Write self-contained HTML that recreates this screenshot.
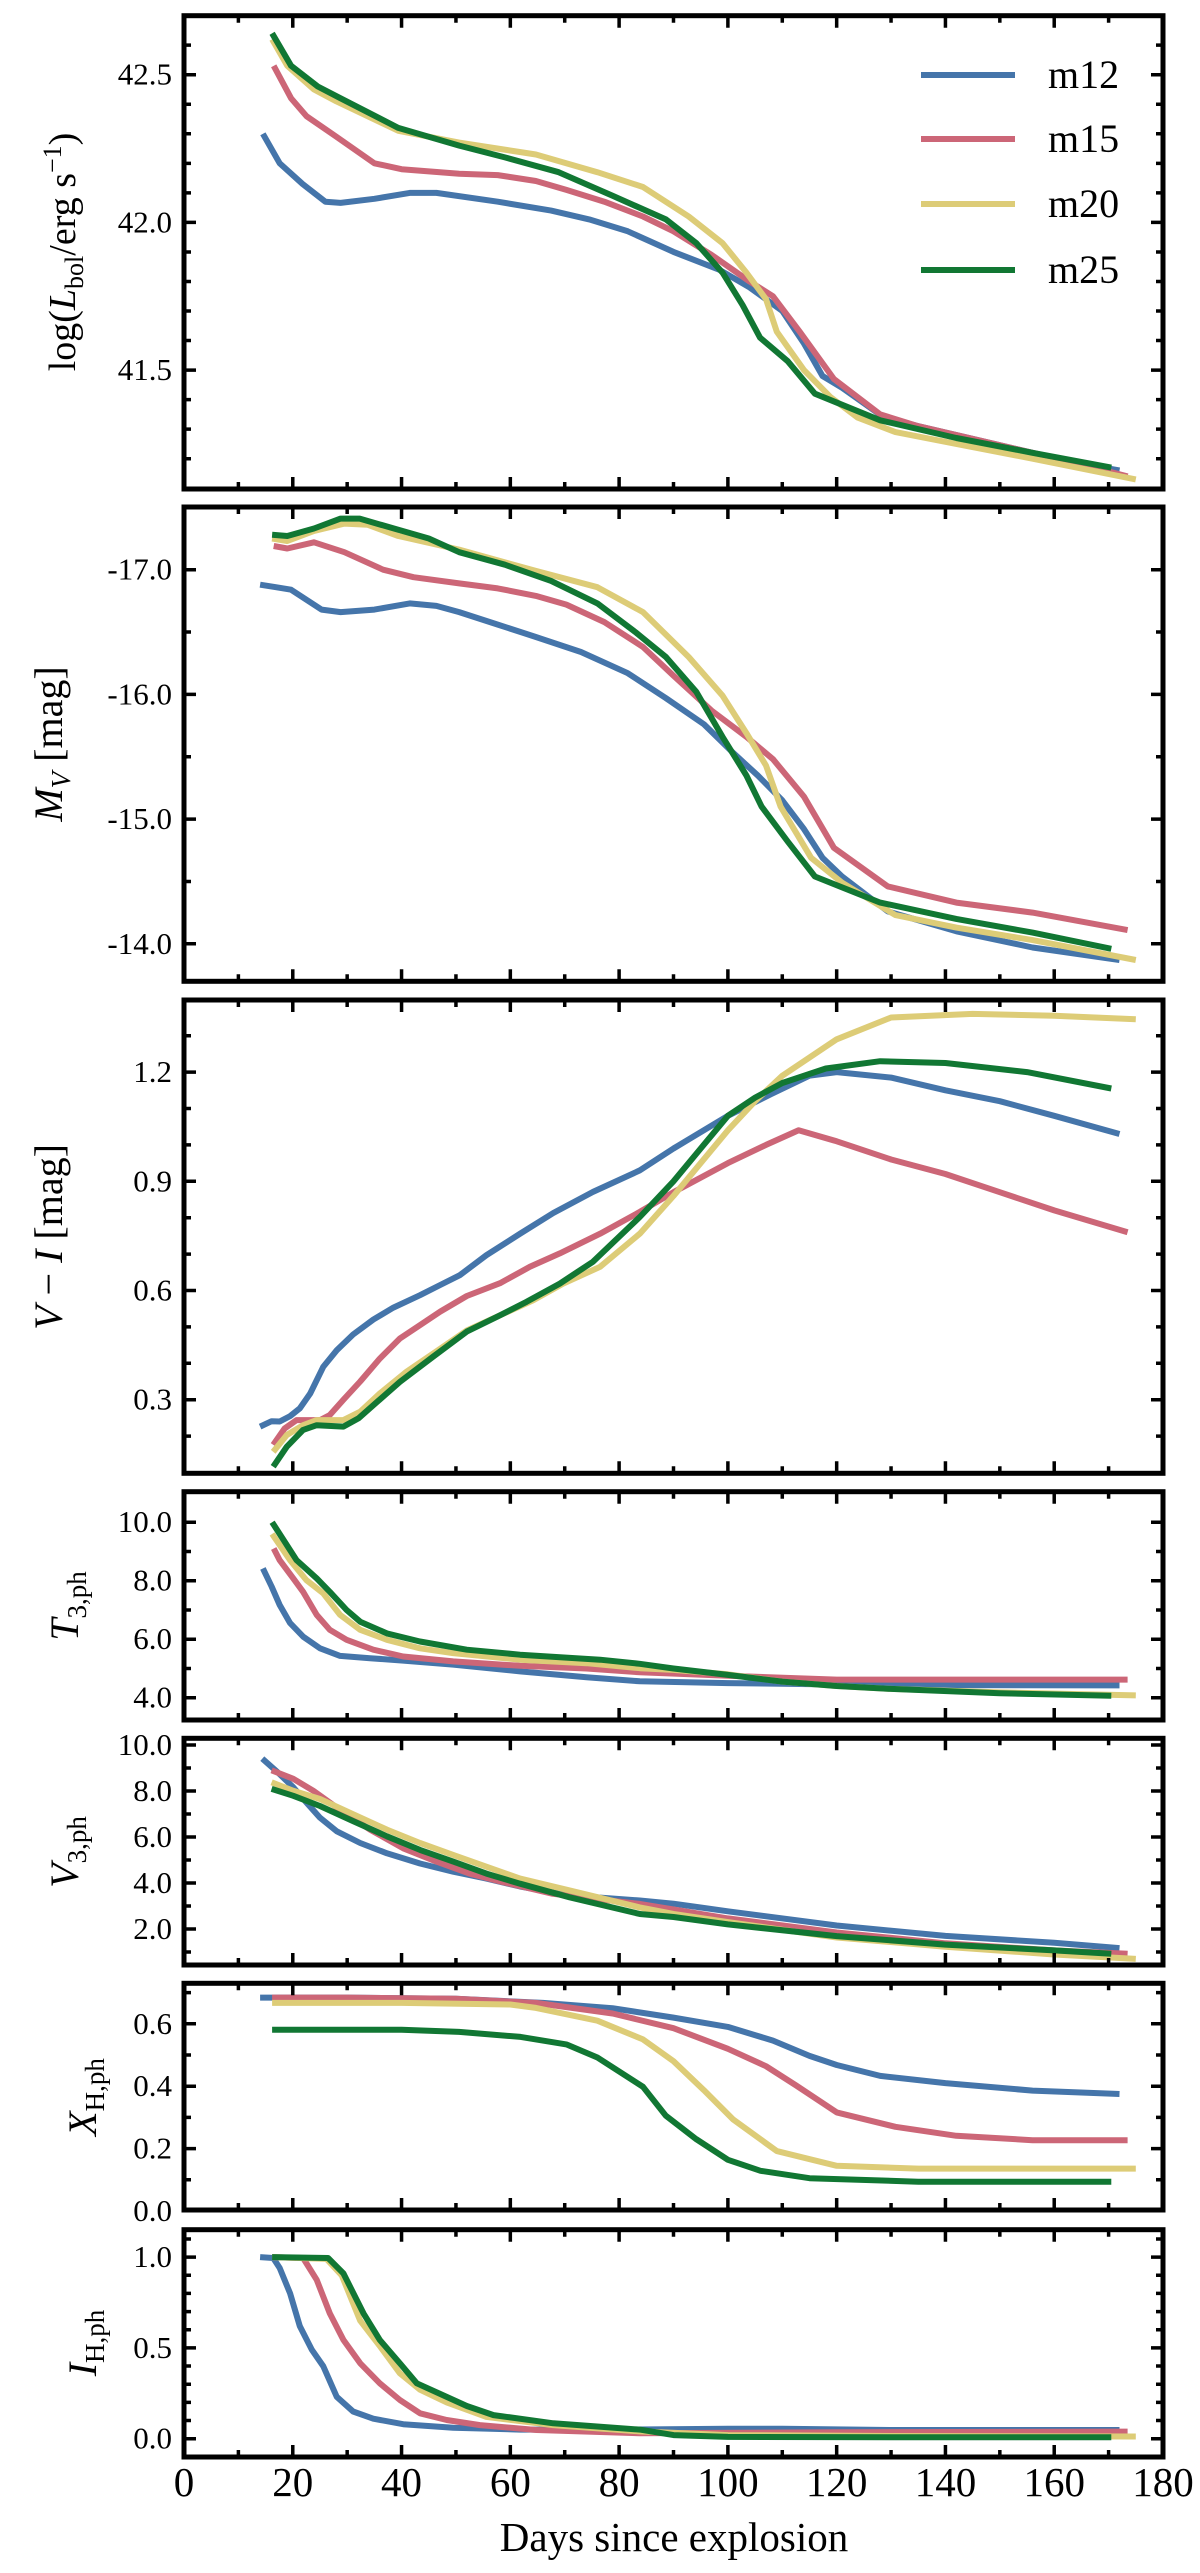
<!DOCTYPE html>
<html><head><meta charset="utf-8"><style>
html,body{margin:0;padding:0;background:#fff;}
svg{display:block;font-family:"Liberation Serif",serif;}
</style></head><body>
<svg id="fig" width="1200" height="2573" viewBox="0 0 1200 2573" xmlns="http://www.w3.org/2000/svg">
<g id="marks"></g><g id="axes"></g><g id="labels"></g>
</svg>
<script>
// ---- data ----
const seriesNames = ["m12","m15","m20","m25"];
const seriesColors = ["#4575aa","#cc6677","#ddcc77","#117733"];
const xTicks = [0,20,40,60,80,100,120,140,160,180];

// Panel 1: log L_bol
const p1_m12_d=[14.5,17.6,21.8,26,28.8,35,41.5,46.4,57.7,67.5,74.5,81.6,90,98.4,104,110,114,117.4,121,128.7,135,149,163,172];
const p1_m12_v=[42.30,42.20,42.13,42.07,42.066,42.08,42.10,42.10,42.07,42.04,42.01,41.97,41.90,41.84,41.78,41.70,41.59,41.48,41.44,41.34,41.31,41.25,41.19,41.16];
const p1_m15_d=[16.5,19.7,22.5,28,35,40,50.6,57.7,64.7,70.3,77.3,84.4,90,97,104,108.3,113.2,119.5,128,135,149,163,173.5];
const p1_m15_v=[42.53,42.42,42.36,42.29,42.20,42.18,42.165,42.16,42.14,42.11,42.07,42.02,41.97,41.89,41.80,41.75,41.63,41.47,41.35,41.31,41.25,41.19,41.14];
const p1_m20_d=[16.2,19,23.9,28,39.4,50.6,64.7,76,84.4,92.8,99,103.4,107,109,114,118.8,123.8,130.8,142,156,175];
const p1_m20_v=[42.62,42.53,42.45,42.41,42.31,42.27,42.23,42.17,42.12,42.02,41.93,41.83,41.74,41.63,41.50,41.41,41.34,41.29,41.25,41.20,41.13];
const p1_m25_d=[16.2,19.7,24.6,28.8,39.4,50.6,59,68.9,78.8,88.6,94.2,99,102.7,105.9,111,116,128,142,156,170.5];
const p1_m25_v=[42.64,42.53,42.46,42.42,42.32,42.26,42.22,42.17,42.09,42.01,41.93,41.83,41.72,41.61,41.53,41.42,41.33,41.27,41.22,41.17];
const p1_ticks=[41.5,42.0,42.5];

// Panel 2: M_V
const p2_m12_d=[14,16.9,19.7,25.3,28.8,35,41.5,46.4,50.6,57.7,64.7,73,81.6,88.6,95.6,101,105.5,110,114,117.4,121,129.4,142,156,172];
const p2_m12_v=[-16.88,-16.86,-16.84,-16.68,-16.66,-16.68,-16.73,-16.71,-16.66,-16.56,-16.46,-16.34,-16.17,-15.97,-15.76,-15.53,-15.35,-15.15,-14.92,-14.69,-14.54,-14.26,-14.10,-13.97,-13.87];
const p2_m15_d=[16.5,19,23.9,29.5,36.6,42.2,50.6,57.7,64.7,70.3,77.3,84.4,90,97,103.4,108.3,114,119.5,129.4,142,156,173.5];
const p2_m15_v=[-17.19,-17.17,-17.22,-17.14,-17.0,-16.94,-16.89,-16.85,-16.79,-16.72,-16.58,-16.38,-16.15,-15.87,-15.66,-15.48,-15.18,-14.77,-14.46,-14.33,-14.25,-14.11];
const p2_m20_d=[16.2,19,23.9,29.5,33.8,39.4,50.6,64.7,76,84.4,92.8,99,103.4,107,109.7,115.3,121,130.8,142,156,175];
const p2_m20_v=[-17.25,-17.23,-17.31,-17.37,-17.36,-17.27,-17.16,-16.99,-16.86,-16.66,-16.30,-15.99,-15.69,-15.43,-15.10,-14.69,-14.49,-14.23,-14.13,-14.03,-13.87];
const p2_m25_d=[16.2,19,23.9,28.8,32.3,39.4,45,50.6,59,67.5,76,83,88.6,94.2,99,103.4,106.2,111,116,128,142,156,170.5];
const p2_m25_v=[-17.28,-17.27,-17.33,-17.41,-17.41,-17.32,-17.25,-17.14,-17.04,-16.91,-16.73,-16.50,-16.30,-16.02,-15.66,-15.35,-15.10,-14.82,-14.54,-14.33,-14.20,-14.09,-13.96];
const p2_ticks=[-17,-16,-15,-14];

// Panel 3: V - I
const p3_m12_d=[14,16.1,17.6,19.5,21.3,23.2,25.6,28.1,31.1,34.8,38.5,43.4,47.1,50.7,55.6,61.8,67.9,75.2,83.8,90,100,108,115,120,130,140,150,160,172];
const p3_m12_v=[0.226,0.241,0.24,0.255,0.276,0.317,0.39,0.436,0.479,0.52,0.553,0.587,0.615,0.642,0.697,0.756,0.813,0.871,0.93,0.99,1.08,1.14,1.19,1.2,1.185,1.15,1.12,1.08,1.03];
const p3_m15_d=[16.4,18.5,20.7,25,26.8,29.3,32.4,36,39.7,43.4,47.1,52,58.1,63.6,69.1,76.5,83.8,90,100,107,113,120,130,140,150,160,173.5];
const p3_m15_v=[0.176,0.221,0.244,0.244,0.258,0.3,0.35,0.413,0.468,0.505,0.542,0.585,0.62,0.665,0.702,0.756,0.816,0.87,0.95,1.0,1.04,1.01,0.96,0.92,0.87,0.82,0.76];
const p3_m20_d=[16.4,18.9,21.9,24.4,29.3,32.4,36,40.9,47.1,52,58.1,64.2,69.7,76.5,83.8,90,95,100,105,110,120,130,145,160,175];
const p3_m20_v=[0.157,0.203,0.23,0.244,0.244,0.267,0.317,0.377,0.44,0.49,0.532,0.573,0.619,0.665,0.756,0.86,0.95,1.04,1.12,1.19,1.29,1.35,1.36,1.355,1.345];
const p3_m25_d=[16.4,18.9,21.9,24.4,29.3,32.1,35.5,39.7,45.8,52,58.1,63,69.1,75.2,83.8,90,95,100,105,110,118,128,140,155,170.5];
const p3_m25_v=[0.116,0.171,0.217,0.23,0.226,0.249,0.294,0.349,0.418,0.487,0.532,0.569,0.619,0.679,0.802,0.9,0.99,1.08,1.13,1.17,1.21,1.23,1.225,1.2,1.155];
const p3_ticks=[0.3,0.6,0.9,1.2];

// Panel 4: T_3,ph
const p4_m12_d=[14.5,16.1,17.6,19.5,21.9,25,28.7,34.2,40.3,49.5,61.8,74,83.8,100,120,140,172];
const p4_m12_v=[8.42,7.8,7.17,6.55,6.09,5.69,5.43,5.35,5.27,5.13,4.9,4.7,4.56,4.5,4.45,4.43,4.42];
const p4_m15_d=[16.5,17.6,20.1,21.9,24.4,26.8,29.9,34.8,40.3,49.5,61.8,74,83.8,100,120,140,173.5];
const p4_m15_v=[9.1,8.7,8.08,7.62,6.83,6.32,5.98,5.64,5.41,5.24,5.09,5.0,4.87,4.75,4.62,4.62,4.62];
const p4_m20_d=[16.2,19.5,22.5,25.6,28.7,32.4,37.3,43.4,49.5,61.8,74,83.8,90,100,110,120,130,150,175];
const p4_m20_v=[9.6,8.7,8.02,7.57,6.83,6.32,5.98,5.69,5.52,5.3,5.18,5.01,4.95,4.8,4.55,4.4,4.3,4.18,4.08];
const p4_m25_d=[16.2,20.7,24.4,26.8,29.9,32.4,37.3,43.4,52,61.8,76.5,83.8,90,100,110,120,130,150,170.5];
const p4_m25_v=[10.0,8.7,8.08,7.62,7.0,6.6,6.2,5.92,5.64,5.47,5.3,5.16,5.0,4.78,4.55,4.4,4.3,4.15,4.07];
const p4_ticks=[4,6,8,10];

// Panel 5: V_3,ph
const p5_m12_d=[14.4,17.2,20.1,22.5,25,28.1,32.4,37.3,43.4,49.5,55.6,61.8,70.9,83.8,90,100,120,140,160,172];
const p5_m12_v=[9.41,8.82,8.16,7.5,6.84,6.25,5.74,5.29,4.85,4.49,4.19,3.85,3.46,3.24,3.1,2.77,2.15,1.7,1.4,1.17];
const p5_m15_d=[16.1,20.1,23.8,28.1,34.2,40.3,46.4,52.5,58.6,67.8,83.8,90,100,120,140,160,173.5];
const p5_m15_v=[8.9,8.53,8.01,7.28,6.32,5.51,4.93,4.41,4.04,3.53,3.09,2.85,2.46,1.85,1.38,1.07,0.92];
const p5_m20_d=[16.1,20.1,25,31.1,37.3,43.4,49.5,55.6,61.8,70.9,83.8,90,100,120,140,160,175];
const p5_m20_v=[8.38,8.01,7.65,6.99,6.32,5.74,5.22,4.71,4.19,3.68,2.94,2.65,2.3,1.63,1.23,0.89,0.7];
const p5_m25_d=[16.1,20.1,25,31.1,37.3,43.4,49.5,55.6,61.8,70.9,83.8,90,100,120,140,160,170.5];
const p5_m25_v=[8.09,7.79,7.35,6.69,6.03,5.44,4.93,4.41,3.97,3.38,2.65,2.52,2.2,1.69,1.32,1.07,0.92];
const p5_ticks=[2,4,6,8,10];

// Panel 6: X_H,ph
const p6_m12_d=[14,30,50,66,78.8,90,100,108.3,115,120,128,140,156,172];
const p6_m12_v=[0.684,0.684,0.68,0.667,0.65,0.62,0.59,0.546,0.497,0.468,0.433,0.41,0.386,0.375];
const p6_m15_d=[16.2,30,50,64.7,78.8,90,100,107,112.5,120,130.8,142,156,173.5];
const p6_m15_v=[0.684,0.684,0.68,0.667,0.633,0.586,0.52,0.464,0.403,0.316,0.27,0.241,0.227,0.227];
const p6_m20_d=[16.2,40,60,64.7,76,84.4,90,95.6,101,109,120,135,175];
const p6_m20_v=[0.667,0.667,0.662,0.651,0.61,0.55,0.48,0.387,0.293,0.192,0.145,0.136,0.136];
const p6_m25_d=[16.2,40,50.6,61.9,70.3,76,84.4,88.6,94.2,100,106,115,135,170.5];
const p6_m25_v=[0.581,0.581,0.574,0.558,0.534,0.492,0.398,0.305,0.23,0.164,0.129,0.105,0.094,0.094];
const p6_ticks=[0.0,0.2,0.4,0.6];

// Panel 7: I_H,ph
const p7_m12_d=[14,16.4,17.6,19.5,21.3,23.5,25.6,28.1,31.1,34.8,40.3,49.5,61.8,80,100,110,130,172];
const p7_m12_v=[1,0.995,0.94,0.8,0.62,0.49,0.4,0.23,0.15,0.11,0.08,0.06,0.05,0.05,0.055,0.055,0.048,0.048];
const p7_m15_d=[16.2,21.9,24.4,26.8,29.3,32.4,36,39.7,43.4,48.3,54.4,64.8,83.8,120,173.5];
const p7_m15_v=[1,0.995,0.875,0.69,0.544,0.415,0.305,0.213,0.14,0.103,0.075,0.048,0.03,0.035,0.039];
const p7_m20_d=[16.2,26.2,29,32.4,36,39.7,43.4,48.3,55.6,67.9,83.8,100,130,175];
const p7_m20_v=[1,0.99,0.9,0.65,0.51,0.36,0.27,0.2,0.12,0.075,0.04,0.02,0.015,0.012];
const p7_m25_d=[16.2,26.5,29.3,33,36,39.7,42.8,48.3,52,56.9,67.9,83.8,90,100,130,170.5];
const p7_m25_v=[1,0.995,0.91,0.69,0.544,0.415,0.305,0.23,0.18,0.13,0.085,0.05,0.02,0.01,0.008,0.008];
const p7_ticks=[0.0,0.5,1.0];

// ---- layout ----
const NS="http://www.w3.org/2000/svg";
const X0=184, X1=1163;
const xScale = d => X0 + d*(X1-X0)/180;
const panels=[
 {key:"lbol", top:15.7, bot:489, v0:42.5, y0:74.7, k:-295.4, ticks:p1_ticks, minor:0.1, fmt:1,
  data:[[p1_m12_d,p1_m12_v],[p1_m15_d,p1_m15_v],[p1_m20_d,p1_m20_v],[p1_m25_d,p1_m25_v]]},
 {key:"mv", top:507, bot:981.3, v0:-17, y0:569.7, k:124.7, ticks:p2_ticks, minor:0.5, fmt:1,
  data:[[p2_m12_d,p2_m12_v],[p2_m15_d,p2_m15_v],[p2_m20_d,p2_m20_v],[p2_m25_d,p2_m25_v]]},
 {key:"vi", top:1000, bot:1473.3, v0:0.3, y0:1399.7, k:-364, ticks:p3_ticks, minor:0.1, fmt:1,
  data:[[p3_m12_d,p3_m12_v],[p3_m15_d,p3_m15_v],[p3_m20_d,p3_m20_v],[p3_m25_d,p3_m25_v]]},
 {key:"tph", top:1491.7, bot:1720, v0:4, y0:1697.7, k:-29.25, ticks:p4_ticks, minor:1, fmt:1,
  data:[[p4_m12_d,p4_m12_v],[p4_m15_d,p4_m15_v],[p4_m20_d,p4_m20_v],[p4_m25_d,p4_m25_v]]},
 {key:"vph", top:1738.3, bot:1965, v0:2, y0:1929, k:-23, ticks:p5_ticks, minor:1, fmt:1,
  data:[[p5_m12_d,p5_m12_v],[p5_m15_d,p5_m15_v],[p5_m20_d,p5_m20_v],[p5_m25_d,p5_m25_v]]},
 {key:"xh", top:1983.3, bot:2210, v0:0, y0:2211, k:-312, ticks:p6_ticks, minor:0.1, fmt:1,
  data:[[p6_m12_d,p6_m12_v],[p6_m15_d,p6_m15_v],[p6_m20_d,p6_m20_v],[p6_m25_d,p6_m25_v]]},
 {key:"ih", top:2229.7, bot:2457, v0:0, y0:2438.7, k:-181.6, ticks:p7_ticks, minor:0.1, fmt:1,
  data:[[p7_m12_d,p7_m12_v],[p7_m15_d,p7_m15_v],[p7_m20_d,p7_m20_v],[p7_m25_d,p7_m25_v]]}
];
const marks=document.getElementById('marks');
const axes=document.getElementById('axes');
const labels=document.getElementById('labels');
function mk(tag,attrs,parent){const e=document.createElementNS(NS,tag);for(const a in attrs)e.setAttribute(a,attrs[a]);parent.appendChild(e);return e;}

panels.forEach(p=>{
  const yS=v=>p.y0+(v-p.v0)*p.k;
  const g=mk('g',{},marks);
  
  
  p.data.forEach((s,i)=>{
    const pts=s[0].map((d,j)=>xScale(d).toFixed(1)+','+yS(s[1][j]).toFixed(1)).join(' ');
    const pl=mk('polyline',{points:pts,fill:'none',stroke:seriesColors[i],'stroke-width':6,'stroke-linejoin':'round'},g);
    
    
  });
  // frame
  const ax=mk('g',{},axes);
  
  
  const fr=mk('rect',{x:X0,y:p.top,width:X1-X0,height:p.bot-p.top,fill:'none',stroke:'#000','stroke-width':5},ax);
  
  
  let path='';
  // x ticks top and bottom
  for(let d=0;d<=180;d+=10){
    const x=xScale(d), L=(d%20===0)?12:7;
    path+=`M${x},${p.bot}v${-L}M${x},${p.top}v${L}`;
  }
  // y ticks
  const vA=p.v0+(p.top-p.y0)/p.k, vB=p.v0+(p.bot-p.y0)/p.k;
  const lo=Math.min(vA,vB), hi=Math.max(vA,vB);
  for(let n=Math.ceil(lo/p.minor-1e-6); n*p.minor<=hi+1e-9; n++){
    const v=n*p.minor, y=yS(v);
    if(y<p.top+3||y>p.bot-3) continue;
    const isMaj=p.ticks.some(t=>Math.abs(t-v)<1e-6);
    const L=isMaj?12:7;
    path+=`M${X0},${y}h${L}M${X1},${y}h${-L}`;
  }
  const tk=mk('path',{d:path,stroke:'#000','stroke-width':3.5,fill:'none'},ax);
  
  
  p.ticks.forEach(t=>{
    const tx=mk('text',{x:172,y:yS(t)+10,'text-anchor':'end','font-size':31,fill:'#000'},labels);
    tx.textContent=t.toFixed(1);
    
    
  });
});
// x tick labels
xTicks.forEach(d=>{
  const t=mk('text',{x:xScale(d),y:2496,'text-anchor':'middle','font-size':41,fill:'#000'},labels);
  t.textContent=String(d);
  
  
});
// legend
const lg=mk('g',{},labels);


const legY=[75,139,204,270];
seriesNames.forEach((n,i)=>{
  const l=mk('line',{x1:921,x2:1015,y1:legY[i],y2:legY[i],stroke:seriesColors[i],'stroke-width':6},lg);
  
  
  const t=mk('text',{x:1048,y:legY[i]+13,'font-size':40,fill:'#000'},lg);
  t.textContent=n;
  
  
});
</script>
<svg width="0" height="0" style="position:absolute"></svg>
<script>
// axis titles (static text appended into main svg)
(function(){
 const fig=document.getElementById('fig');
 const lab=`
<text x="674" y="2551" text-anchor="middle" font-size="41">Days since explosion</text>
<text transform="translate(75,252) rotate(-90)" text-anchor="middle" font-size="38">log(<tspan font-style="italic">L</tspan><tspan font-size="26" dy="8">bol</tspan><tspan dy="-8">/erg s</tspan><tspan font-size="26" dy="-14">−1</tspan><tspan dy="14">)</tspan></text>
<text transform="translate(62,744) rotate(-90)" text-anchor="middle" font-size="40"><tspan font-style="italic">M</tspan><tspan font-size="27" font-style="italic" dy="8">V</tspan><tspan dy="-8"> [mag]</tspan></text>
<text transform="translate(62,1237) rotate(-90)" text-anchor="middle" font-size="40"><tspan font-style="italic">V</tspan> − <tspan font-style="italic">I</tspan> [mag]</text>
<text transform="translate(78,1606) rotate(-90)" text-anchor="middle" font-size="40"><tspan font-style="italic">T</tspan><tspan font-size="27" dy="8">3,ph</tspan></text>
<text transform="translate(78,1852) rotate(-90)" text-anchor="middle" font-size="40"><tspan font-style="italic">V</tspan><tspan font-size="27" dy="8">3,ph</tspan></text>
<text transform="translate(96,2097) rotate(-90)" text-anchor="middle" font-size="40"><tspan font-style="italic">X</tspan><tspan font-size="27" dy="8">H,ph</tspan></text>
<text transform="translate(96,2343) rotate(-90)" text-anchor="middle" font-size="40"><tspan font-style="italic">I</tspan><tspan font-size="27" dy="8">H,ph</tspan></text>`;
 const g=document.createElementNS("http://www.w3.org/2000/svg",'g');
 
 
 g.innerHTML=lab;
 fig.appendChild(g);
})();
</script>
</body></html>
